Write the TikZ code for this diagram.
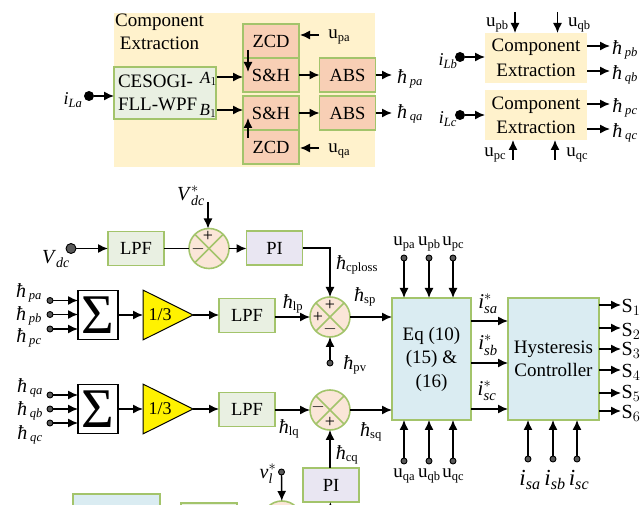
\documentclass[tikz,border=0pt]{standalone}
\usepackage{amsmath}
\usepackage{fontspec}
\setmainfont{Liberation Serif}
\usetikzlibrary{arrows.meta,shapes.geometric}

\definecolor{edgegreen}{RGB}{163,196,107}
\definecolor{cream}{RGB}{255,242,204}
\definecolor{palegreen}{RGB}{233,240,226}
\definecolor{salmon}{RGB}{248,207,181}
\definecolor{peach}{RGB}{251,230,216}
\definecolor{lilac}{RGB}{233,230,242}
\definecolor{paleblue}{RGB}{218,236,242}

\newcommand{\hb}[1]{{\fontsize{20}{22}\selectfont\textit{ħ}}$\,_{\textit{#1}}$}
\newcommand{\hbr}[1]{{\fontsize{20}{22}\selectfont\textit{ħ}}$_{\text{#1}}$}
\newcommand{\ur}[1]{u\raisebox{-3pt}{\fontsize{12.5}{13}\selectfont #1}}
\newcommand{\ist}[1]{\textit{i}$^{*}_{\textit{#1}}$}
\newcommand{\ilab}[1]{\textit{i}$_{\textit{#1}}$}

\tikzset{
  block/.style={draw=edgegreen,line width=1.9pt,outer sep=0pt,inner sep=0pt,align=center,
    font=\fontsize{18.5}{23}\selectfont,minimum height=34},
  green/.style={block,fill=palegreen,minimum width=56},
  sala/.style={block,fill=salmon,minimum width=56},
  pibox/.style={block,fill=lilac,minimum width=56},
  bluebox/.style={block,fill=paleblue},
  creambox/.style={fill=cream,outer sep=0pt,inner sep=0pt,align=center,
    font=\fontsize{19}{24.5}\selectfont},
  junction/.style={circle,draw=edgegreen,line width=1.6pt,fill=peach,outer sep=0pt,inner sep=0pt,minimum size=40},
  sumbox/.style={draw,line width=1.2pt,fill=white,outer sep=0pt,inner sep=0pt,minimum width=40,minimum height=49,
    font=\fontsize{56}{56}\selectfont},
  gainbox/.style={isosceles triangle,isosceles triangle apex angle=53,draw,line width=1pt,fill=yellow,outer sep=0pt,inner sep=0pt,
    minimum height=50,font=\fontsize{18}{20}\selectfont},
  dot/.style={circle,draw,line width=.9pt,fill=gray!70!black,outer sep=0pt,inner sep=0pt,minimum size=6},
  bigdot/.style={circle,fill=black,outer sep=0pt,inner sep=0pt,minimum size=10},
  lab/.style={inner sep=0pt,font=\fontsize{18}{20}\selectfont},
  slab/.style={inner sep=0pt,font=\fontsize{19}{20}\selectfont},
  arr/.style={-{Latex[length=10pt,width=9pt]},line width=1.4pt},
  wire/.style={line width=1.4pt},
  cross/.style={draw=edgegreen,line width=1.6pt}
}

\begin{document}
\begin{tikzpicture}
  [x=1pt,y=-1pt]
  \useasboundingbox (0,0) rectangle (641,505);
  \clip (0,0) rectangle (641,505);

  % first phase, extraction
  \node[creambox,minimum width=261,minimum height=154] (panel) at (244.5,90) {};
  \node[lab,anchor=west,font=\fontsize{19}{24}\selectfont,align=left] (ce) at (115,32) {Component\\[-1pt]\ Extraction};
  \node[block,fill=palegreen,minimum width=102,minimum height=52,text width=94,align=left,font=\fontsize{19}{23}\selectfont] (wpf) at (165,93) {CESOGI-\\FLL-WPF};
  \node[sala] (zcdp) at (271,41) {ZCD};
  \node[sala] (shp) at (271,75) {S\&H};
  \node[sala] (shq) at (271,113) {S\&H};
  \node[sala] (zcdq) at (271,147) {ZCD};
  \node[sala] (absp) at (347.5,75) {ABS};
  \node[sala] (absq) at (347.5,113) {ABS};
  \node[lab,font=\fontsize{17}{19}\selectfont] (a1) at (208.5,79) {\textit{A}$_{1}$};
  \node[lab,font=\fontsize{17}{19}\selectfont] (b1) at (208,111) {\textit{B}$_{1}$};
  \node[lab] (ila) at (73,100) {\ilab{La}};
  \node[bigdot] (dla) at (89,96) {};
  \node[slab] (upa) at (339,37) {\ur{pa}};
  \node[slab] (uqa) at (339,151) {\ur{qa}};
  \node[lab] (hpa) at (410,79) {\hb{pa}};
  \node[lab] (hqa) at (410,114) {\hb{qa}};
  \coordinate (a1o) at (217,77);
  \coordinate (b1o) at (217,110);
  \coordinate (a1i) at (243,77);
  \coordinate (b1i) at (243,110);
  \coordinate (upe) at (319,35);
  \coordinate (upi) at (300,35);
  \coordinate (uqe) at (319,148);
  \coordinate (uqi) at (300,148);
  \coordinate (hpe) at (392,75);
  \coordinate (hqe) at (392,113);
  \coordinate (zp1) at (248,50);
  \coordinate (zp2) at (248,72);
  \coordinate (zq1) at (248,138);
  \coordinate (zq2) at (248,118);

  \foreach \from/\to in {a1o/a1i,b1o/b1i,shp/absp,shq/absq,upe/upi,uqe/uqi,zp1/zp2,zq1/zq2}
    \draw[arr] (\from) -- (\to);
  \draw[arr] (dla) -- (dla -| wpf.west);
  \draw[arr] (absp.east) -- (hpe);
  \draw[arr] (absq.east) -- (hqe);

  % second and third phase
  \node[creambox,minimum width=102,minimum height=50] (ceb) at (536,58) {Component\\Extraction};
  \node[creambox,minimum width=102,minimum height=50] (cec) at (536,115.5) {Component\\Extraction};
  \node[lab] (ilb) at (448,61) {\ilab{Lb}};
  \node[lab] (ilc) at (448,119) {\ilab{Lc}};
  \node[bigdot] (dlb) at (460,57) {};
  \node[bigdot] (dlc) at (460,115) {};
  \node[slab] (upb) at (497,25) {\ur{pb}};
  \node[slab] (uqb) at (579,25) {\ur{qb}};
  \node[slab] (upc) at (495,155) {\ur{pc}};
  \node[slab] (uqc) at (577,155) {\ur{qc}};
  \node[lab] (hpb) at (625,50) {\hb{pb}};
  \node[lab] (hqb) at (625,75) {\hb{qb}};
  \node[lab] (hpc) at (625,108) {\hb{pc}};
  \node[lab] (hqc) at (625,133) {\hb{qc}};
  \foreach \name/\px/\py/\qx/\qy in {t1/515/12/515/33,t2/557.5/12/557.5/33,t3/513/160/513/140,t4/555/160/555/140,
      r1/587/46/610/46,r2/587/71/610/71,r3/587/104/610/104,r4/587/129/610/129}
  {
    \coordinate (\name s) at (\px,\py);
    \coordinate (\name e) at (\qx,\qy);
    \draw[arr] (\name s) -- (\name e);
  }
  \draw[arr] (dlb) -- (dlb -| ceb.west);
  \draw[arr] (dlc) -- (dlc -| cec.west);

  % dc link loop
  \node[circle,draw,line width=.9pt,fill=gray!70!black,outer sep=0pt,inner sep=0pt,minimum size=10] (dvdc) at (71,248.5) {};
  \node[lab,font=\fontsize{20}{22}\selectfont] (vdc) at (56,259) {\textit{V}$_{\textit{dc}}$};
  \node[green] (lpfdc) at (136,248.5) {LPF};
  \node[junction] (jdc) at (209,248.5) {};
  \node[pibox] (pip) at (274.5,248) {PI};
  \node[lab,font=\fontsize{20}{22}\selectfont] (vref) at (191,196) {\textit{V}$^{*}_{\textit{dc}}$};
  \coordinate (vrefe) at (208,202);

  \draw[arr] (dvdc) -- (lpfdc);
  \draw[wire] (lpfdc) -- (jdc);
  \draw[arr] (jdc) -- (jdc -| pip.west);
  \draw[arr] (vrefe) -- (vrefe |- jdc.north);

  % p and q rows
  \foreach \row/\ym/\ya/\yb/\yc in {p/315/300.5/314.5/329,q/409/395/409/423}
  {
    \node[sumbox] (sum\row) at (98,\ym) {$\vcenter{\hbox{Σ}}$};
    \node[gainbox,anchor=lower side] (gain\row) at (143,\ym) {};
    \node[dot] (d\row a) at (50,\ya) {};
    \node[dot] (d\row b) at (50,\yb) {};
    \node[dot] (d\row c) at (50,\yc) {};
    \coordinate (i\row a) at (78,\ya);
    \coordinate (i\row b) at (78,\yb);
    \coordinate (i\row c) at (78,\yc);
    \draw[arr] (d\row a) -- (i\row a);
    \draw[arr] (d\row b) -- (i\row b);
    \draw[arr] (d\row c) -- (i\row c);
    \node[green] (lpf\row) at (247,\ym+.5) {LPF};
    \draw[arr] (sum\row) -- (gain\row.lower side);
    \draw[arr] (gain\row.apex) -- (lpf\row.west |- gain\row.apex);
    \node[lab,font=\fontsize{18}{20}\selectfont] (gt\row) at (160,\ym) {1/3};
  }
  \node[lab] (hlpa) at (29,293) {\hb{pa}};
  \node[lab] (hlpb) at (29,316) {\hb{pb}};
  \node[lab] (hlpc) at (29,338) {\hb{pc}};
  \node[lab] (hlqa) at (30,388) {\hb{qa}};
  \node[lab] (hlqb) at (30,411) {\hb{qb}};
  \node[lab] (hlqc) at (30,435) {\hb{qc}};

  \node[junction] (jp) at (330,317) {};
  \node[junction] (jq) at (330,410) {};
  \node[pibox] (piq) at (331,485) {PI};
  \node[dot] (dpv) at (330,363) {};
  \node[lab] (hpv) at (355,365) {\hbr{pv}};
  \node[lab] (hlp) at (293,304) {\hbr{lp}};
  \node[lab] (hlq) at (289,429) {\hbr{lq}};
  \node[lab] (hcp) at (357,265) {\hbr{cploss}};
  \node[lab] (hcq) at (347,455) {\hbr{cq}};
  \node[lab] (hsp) at (365,297) {\hbr{sp}};
  \node[lab] (hsq) at (371,432) {\hbr{sq}};

  \draw[arr] (lpfp.east |- jp) -- (jp);
  \draw[arr] (lpfq.east |- jq) -- (jq);
  \draw[arr] (pip.east) -| (jp);
  \draw[arr] (dpv) -- (jp);
  \draw[arr] (piq.north -| jq) -- (jq);

  % reference block and hysteresis
  \node[bluebox,minimum width=79,minimum height=122,font=\fontsize{19}{23.5}\selectfont] (eq) at (431.5,359) {Eq (10)\\(15) \&\\(16)};
  \node[bluebox,minimum width=91,minimum height=122,font=\fontsize{19}{23.5}\selectfont] (hys) at (553.5,359) {Hysteresis\\Controller};
  \draw[arr] (jp) -- (jp -| eq.west);
  \draw[arr] (jq) -- (jq -| eq.west);

  \foreach \x/\nm in {404/pa,429/pb,453/pc}
  {
    \node[dot] (up\nm) at (\x,258) {};
    \node[slab] (tup\nm) at (\x,244) {\ur{\nm}};
    \draw[arr] (up\nm) -- (up\nm |- eq.north);
  }
  \foreach \x/\nm in {404/qa,429/qb,453/qc}
  {
    \node[dot] (dn\nm) at (\x,461) {};
    \node[slab] (tdn\nm) at (\x,476) {\ur{\nm}};
    \draw[arr] (dn\nm) -- (dn\nm |- eq.south);
  }
  \foreach \x/\nm in {528/sa,553/sb,577/sc}
  {
    \node[dot] (in\nm) at (\x,459) {};
    \node[lab,font=\fontsize{23}{25}\selectfont] (tin\nm) at (\x+2,480) {\ilab{\nm}};
    \draw[arr] (in\nm) -- (in\nm |- hys.south);
  }
  \foreach \y/\nm/\ty/\tx in {321/sa/304/488,363/sb/345/488,409/sc/391/487}
  {
    \coordinate (\nm o) at (471,\y);
    \coordinate (\nm i) at (508,\y);
    \node[lab,font=\fontsize{21}{23}\selectfont] (st\nm) at (\tx,\ty) {\ist{\nm}};
    \draw[arr] (\nm o) -- (\nm i);
  }
  \foreach \n/\y/\ty in {1/305/307,2/328/331,3/349/350,4/370/372,5/393/393,6/411/413}
  {
    \coordinate (so\n) at (599,\y);
    \coordinate (se\n) at (621,\y);
    \draw[arr] (so\n) -- (se\n);
    \node[lab,font=\fontsize{20}{22}\selectfont] (s\n) at (631,\ty) {S$_{\n}$};
  }

  % last row, cut by the page
  \node[bluebox,minimum width=87,minimum height=40] (pll) at (116.5,514) {};
  \node[green] (lpfv) at (209,520) {};
  \node[junction] (jv) at (282,521) {};
  \node[dot] (dvl) at (281.5,472) {};
  \node[lab,font=\fontsize{20}{22}\selectfont] (vl) at (268,474) {\textit{v}$^{*}_{\textit{l}}$};
  \node[lab] (cutv) at (17,513) {\textit{ħ}};
  \coordinate (piin) at (330,515);
  \draw[arr] (dvl) -- (jv);
  \draw[arr] (piin) -- (piq);

  % crosses and signs of the summing circles
  \foreach \j in {jdc,jp,jq,jv}
  {
    \draw[cross] (\j.45) -- (\j.225);
    \draw[cross] (\j.135) -- (\j.315);
  }
  \node[lab] (sgnda) at (208,236) {+};
  \node[lab] (sgndb) at (198,249) {$-$};
  \node[lab] (sgnpa) at (330,305) {+};
  \node[lab] (sgnpb) at (318,317) {+};
  \node[lab] (sgnpc) at (330,329) {$-$};
  \node[lab] (sgnqa) at (318,407) {$-$};
  \node[lab] (sgnqb) at (330,422) {+};
\end{tikzpicture}
\end{document}
